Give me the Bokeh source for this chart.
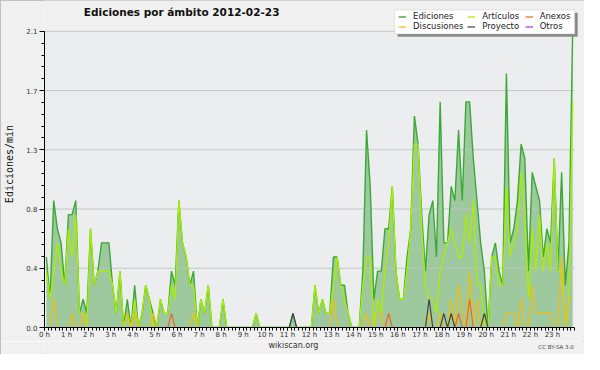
from bokeh.plotting import figure
from bokeh.layouts import column
from bokeh.models import (Range1d, FixedTicker, Label, Legend, LegendItem,
                          BoxAnnotation, ColumnDataSource)
from bokeh.embed import file_html
from bokeh.resources import INLINE

# ---- data: edits per minute, 10-minute bins (144 per day) ----
ediciones = [
    0.5, 0.2, 0.9, 0.7, 0.6, 0.3, 0.8, 0.8, 0.9, 0.1,
    0.2, 0.1, 0.7, 0.3, 0.4, 0.6, 0.6, 0.6, 0.3, 0.1,
    0.4, 0.0, 0.2, 0.0, 0.3, 0.0, 0.1, 0.3, 0.2, 0.1,
    0.0, 0.2, 0.1, 0.1, 0.4, 0.3, 0.9, 0.6, 0.5, 0.3,
    0.4, 0.0, 0.2, 0.1, 0.3, 0.0, 0.0, 0.0, 0.2, 0.0,
    0.0, 0.0, 0.0, 0.0, 0.0, 0.0, 0.0, 0.1, 0.0, 0.0,
    0.0, 0.0, 0.0, 0.0, 0.0, 0.0, 0.0, 0.1, 0.0, 0.0,
    0.0, 0.0, 0.0, 0.3, 0.1, 0.2, 0.1, 0.1, 0.5, 0.5,
    0.3, 0.3, 0.1, 0.0, 0.0, 0.0, 0.4, 1.4, 1.0, 0.2,
    0.4, 0.4, 0.7, 0.7, 1.0, 0.4, 0.2, 0.2, 0.5, 0.7,
    1.5, 1.3, 0.8, 0.4, 0.8, 0.9, 0.5, 1.6, 0.6, 0.6,
    1.0, 0.9, 1.4, 0.9, 1.6, 1.6, 1.2, 0.9, 0.6, 0.4,
    0.0, 0.5, 0.6, 0.4, 0.3, 1.8, 0.6, 0.7, 0.9, 1.3,
    1.2, 0.4, 1.1, 1.0, 0.9, 0.5, 0.7, 0.6, 1.2, 0.4,
    1.1, 0.3, 0.6, 2.1,
]
articulos = [
    0.4, 0.2, 0.4, 0.6, 0.4, 0.3, 0.7, 0.5, 0.8, 0.1,
    0.1, 0.0, 0.7, 0.3, 0.4, 0.4, 0.4, 0.4, 0.3, 0.1,
    0.4, 0.0, 0.1, 0.0, 0.2, 0.0, 0.1, 0.3, 0.2, 0.0,
    0.0, 0.2, 0.1, 0.1, 0.3, 0.2, 0.9, 0.6, 0.5, 0.3,
    0.3, 0.0, 0.2, 0.1, 0.3, 0.0, 0.0, 0.0, 0.2, 0.0,
    0.0, 0.0, 0.0, 0.0, 0.0, 0.0, 0.0, 0.1, 0.0, 0.0,
    0.0, 0.0, 0.0, 0.0, 0.0, 0.0, 0.0, 0.0, 0.0, 0.0,
    0.0, 0.0, 0.0, 0.3, 0.1, 0.2, 0.1, 0.1, 0.3, 0.5,
    0.3, 0.2, 0.1, 0.0, 0.0, 0.0, 0.3, 0.5, 0.5, 0.0,
    0.2, 0.1, 0.4, 0.6, 1.0, 0.4, 0.2, 0.2, 0.4, 0.7,
    1.3, 1.3, 0.7, 0.3, 0.2, 0.2, 0.1, 0.4, 0.5, 0.6,
    0.7, 0.6, 0.5, 0.5, 0.8, 0.6, 0.9, 0.3, 0.3, 0.0,
    0.0, 0.5, 0.5, 0.3, 0.3, 1.0, 0.5, 0.6, 0.7, 1.1,
    0.8, 0.2, 0.7, 0.4, 0.8, 0.4, 0.6, 0.4, 1.2, 0.4,
    0.4, 0.0, 0.2, 1.6,
]
discusiones = [
    0.0, 0.0, 0.2, 0.0, 0.0, 0.0, 0.0, 0.1, 0.0, 0.0,
    0.1, 0.0, 0.0, 0.0, 0.0, 0.0, 0.0, 0.0, 0.0, 0.0,
    0.0, 0.0, 0.1, 0.0, 0.1, 0.0, 0.0, 0.0, 0.0, 0.1,
    0.0, 0.0, 0.0, 0.0, 0.0, 0.0, 0.0, 0.0, 0.0, 0.0,
    0.1, 0.0, 0.0, 0.0, 0.0, 0.0, 0.0, 0.0, 0.0, 0.0,
    0.0, 0.0, 0.0, 0.0, 0.0, 0.0, 0.0, 0.0, 0.0, 0.0,
    0.0, 0.0, 0.0, 0.0, 0.0, 0.0, 0.0, 0.0, 0.0, 0.0,
    0.0, 0.0, 0.0, 0.0, 0.0, 0.0, 0.0, 0.0, 0.2, 0.0,
    0.0, 0.0, 0.0, 0.0, 0.0, 0.0, 0.0, 0.1, 0.0, 0.0,
    0.1, 0.1, 0.0, 0.0, 0.0, 0.0, 0.0, 0.0, 0.0, 0.0,
    0.0, 0.0, 0.0, 0.0, 0.1, 0.0, 0.0, 0.1, 0.0, 0.0,
    0.2, 0.0, 0.3, 0.1, 0.0, 0.4, 0.0, 0.2, 0.0, 0.1,
    0.0, 0.0, 0.0, 0.0, 0.0, 0.1, 0.1, 0.1, 0.0, 0.2,
    0.0, 0.0, 0.3, 0.1, 0.1, 0.1, 0.1, 0.1, 0.0, 0.0,
    0.5, 0.0, 0.2, 0.2,
]
anexos = [0.0] * 144
for i_, v_ in [(34, 0.1), (93, 0.1), (112, 0.1), (115, 0.2)]:
    anexos[i_] = v_
proyecto = [0.0] * 144
for i_, v_ in [(67, 0.1), (104, 0.2), (108, 0.1), (110, 0.1), (119, 0.1)]:
    proyecto[i_] = v_
otros = [0.0] * 144

hour_labels = [f"{h} h" for h in range(24)]
y_ticks = [0, 0.42, 0.84, 1.26, 1.68, 2.1]
y_labels = ["0.0", "0.4", "0.8", "1.3", "1.7", "2.1"]

x = [(i + 0.5) / 6 for i in range(144)]
src = ColumnDataSource(dict(x=x, ed=ediciones, ar=articulos, di=discusiones,
                            an=anexos, pr=proyecto, ot=otros))

# ---- geometry (reference 600x370 scaled into 584x354) ----
W, H = 584, 354
SX, SY = W / 600, H / 370
FL = 44                 # frame left
DR = 574                # right end of data area (24 h)
DT = 31                 # top of data area (2.1)
FB = 329                # frame bottom (0.0)
MAIN_H = 341
FOOT_H = H - MAIN_H
FW = W - FL
x_end = 24 * FW / (DR - FL)
y_end = 2.1 * FB / (FB - DT)

p = figure(width=W, height=MAIN_H, output_backend="svg", toolbar_location=None,
           x_range=Range1d(0, x_end), y_range=Range1d(0, y_end),
           min_border_left=FL, min_border_right=0,
           min_border_top=0, min_border_bottom=MAIN_H - FB,
           background_fill_color="#f0f0f0", border_fill_color="#f0f0f0",
           outline_line_color=None)
p.xgrid.visible = False
p.ygrid.visible = False

# plot area background
p.add_layout(BoxAnnotation(left=0, right=24, bottom=0, top=2.1,
                           fill_color="#ecedef", fill_alpha=1, line_color=None,
                           level="underlay"))

p.varea(x="x", y1=0, y2="ed", source=src, fill_color="#9ec89e")
# horizontal grid lines at the y ticks, over the fill
p.segment(x0=0, x1=24, y0=y_ticks, y1=y_ticks, line_color="#bfc3c3",
          line_width=1, line_alpha=0.9)
p.line(x="x", y="ot", source=src, line_color="#9933ee", line_width=1.2)
r_ed = p.line(x="x", y="ed", source=src, line_color="#3aaa35", line_width=1.4)
r_ar = p.line(x="x", y="ar", source=src, line_color="#aaee00", line_width=1.3)
r_di = p.line(x="x", y="di", source=src, line_color="#f0c010", line_width=1.2)
r_an = p.line(x="x", y="an", source=src, line_color="#ee6622", line_width=1.2)
r_pr = p.line(x="x", y="pr", source=src, line_color="#444444", line_width=1.2)
r_ot = p.line(x=[-5, -4], y=[-5, -5], line_color="#9933ee", line_width=1.2)

# axes
p.xaxis.ticker = FixedTicker(ticks=list(range(24)),
                             minor_ticks=[k / 6 for k in range(145)])
p.xaxis.major_label_overrides = {h: hour_labels[h] for h in range(24)}
p.xaxis.bounds = (0, 24)
p.yaxis.ticker = FixedTicker(ticks=y_ticks,
                             minor_ticks=[round(k * 0.084, 3) for k in range(26)])
p.yaxis.major_label_overrides = {t: l for t, l in zip(y_ticks, y_labels)}
p.yaxis.bounds = (0, 2.1)
for ax in (p.xaxis[0], p.yaxis[0]):
    ax.axis_line_color = "black"
    ax.axis_line_width = 1
    ax.major_tick_line_color = "black"
    ax.minor_tick_line_color = "black"
    ax.major_tick_in = 0
    ax.minor_tick_in = 0
    ax.major_label_text_font = "DejaVu Sans"
    ax.major_label_text_font_size = "7px"
    ax.major_label_text_color = "#333333"
p.xaxis.major_label_standoff = 0
p.yaxis.major_label_standoff = 2
p.xaxis.major_tick_out = 3
p.xaxis.minor_tick_out = 3
p.yaxis.major_tick_out = 5
p.yaxis.minor_tick_out = 3
p.yaxis.axis_label = "Ediciones/min"
p.yaxis.axis_label_text_font = "DejaVu Sans Mono"
p.yaxis.axis_label_text_font_size = "10px"
p.yaxis.axis_label_text_font_style = "normal"
p.yaxis.axis_label_text_color = "#111111"
p.yaxis.axis_label_standoff = 8

# texts inside the (extended) frame: screen units from frame bottom-left
def fx(rx):
    return rx * SX - FL

def fy(ry):
    return FB - ry * SY

p.add_layout(Label(x=fx(188), y=fy(14), x_units="screen", y_units="screen",
                   text="Ediciones por ámbito  2012-02-23", text_align="center",
                   text_baseline="middle", text_font="DejaVu Sans",
                   text_font_style="bold", text_font_size="10.5px",
                   text_color="#111111"))

# legend: shadow, box, then three two-row columns
def sbox(l, r, t, b, **kw):
    return BoxAnnotation(left=fx(l), right=fx(r), top=fy(t), bottom=fy(b),
                         left_units="screen", right_units="screen",
                         top_units="screen", bottom_units="screen", **kw)

p.add_layout(sbox(408, 593, 15, 40, fill_color="#8a8a8a", fill_alpha=1,
                  line_color=None))
p.add_layout(sbox(405, 590, 12, 37, fill_color="white", fill_alpha=1,
                  line_color="#b4b4b4", line_width=1))

legend_cols = [
    (409, [("Ediciones", r_ed), ("Discusiones", r_di)]),
    (480, [("Artículos", r_ar), ("Proyecto", r_pr)]),
    (539, [("Anexos", r_an), ("Otros", r_ot)]),
]
for col_x, entries in legend_cols:
    p.add_layout(Legend(
        items=[LegendItem(label=t, renderers=[r]) for t, r in entries],
        location=(fx(col_x), fy(34.5)), orientation="vertical",
        label_text_font="DejaVu Sans", label_text_font_size="8.5px",
        label_text_color="#222222", label_height=9, glyph_height=9,
        glyph_width=8, label_standoff=7, spacing=0, padding=0, margin=0,
        border_line_color=None, background_fill_alpha=0))

# ---- footer strip with the site and licence texts ----
# (its frame is aligned with the main frame, starting at x = FL)
f = figure(width=W, height=FOOT_H, output_backend="svg", toolbar_location=None,
           x_range=Range1d(0, 1), y_range=Range1d(0, 1),
           x_axis_location=None, y_axis_location=None,
           min_border_left=0, min_border_right=0, min_border_top=0,
           min_border_bottom=0, background_fill_color="#f0f0f0",
           border_fill_color="#f0f0f0", outline_line_color=None)
f.xgrid.visible = False
f.ygrid.visible = False
f.add_layout(Label(x=301 * SX - FL, y=H - 361 * SY, x_units="screen",
                   y_units="screen", text="wikiscan.org", text_align="center",
                   text_baseline="middle", text_font="DejaVu Sans",
                   text_font_size="8px", text_color="#333333"))
f.add_layout(Label(x=589 * SX - FL, y=H - 362 * SY, x_units="screen",
                   y_units="screen", text="CC BY-SA 3.0", text_align="right",
                   text_baseline="middle", text_font="DejaVu Sans",
                   text_font_size="5.5px", text_color="#444444"))

page = column(p, f, spacing=0,
              styles={"outline": "1px solid #b0b0b0", "outline-offset": "-1px"})
open("out.html", "w").write(file_html(page, INLINE))
